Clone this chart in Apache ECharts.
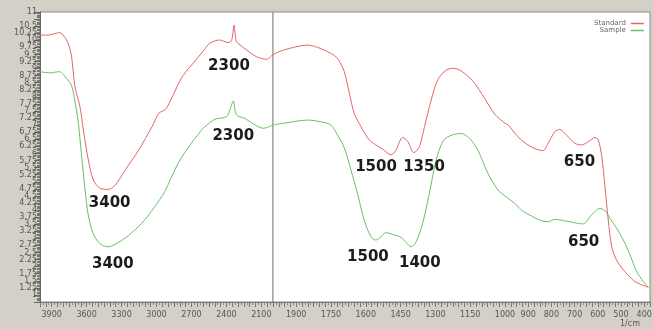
<!DOCTYPE html>
<html><head><meta charset="utf-8">
<script src="https://cdn.jsdelivr.net/npm/echarts@6/dist/echarts.min.js"></script>
<style>html,body{margin:0;padding:0;background:#d4d0c8;}#c{width:653px;height:329px;}</style>
</head><body><div id="c"></div>
<script>
// Standard spectrum
const stdWn = [4000,3950,3905,3860,3830,3795,3758,3729,3700,3657,3628,3585,3542,3484,3412,3354,3268,3153,3038,2980,2922,2865,2779,2663,2591,2545,2459,2386,2355,2335,2318,2300,2228,2142,2055,2000,
  1952,1852,1808,1751,1722,1693,1671,1650,1621,1585,1549,1527,1491,1470,1441,1419,1393,1369,1347,1318,1290,1253,1218,1174,1131,1088,1045,1001,987,944,901,864,836,814,785,764,735,699,670,641,612,598,583,569,555,540,519,483,439,396,382];
const stdVal = [10.19,10.18,10.20,10.25,10.27,10.15,9.89,9.42,8.36,7.65,6.83,5.77,5.06,4.77,4.73,4.88,5.42,6.12,6.95,7.42,7.56,8.0,8.71,9.30,9.66,9.89,10.01,9.92,10.0,10.54,10.0,9.89,9.66,9.42,9.33,9.50,
  9.66,9.83,9.75,9.54,9.36,8.9,8.13,7.42,6.95,6.48,6.26,6.15,5.95,6.12,6.57,6.42,6.03,6.24,6.95,7.89,8.60,8.95,9.01,8.83,8.48,7.95,7.40,7.07,7.01,6.59,6.30,6.15,6.10,6.36,6.77,6.85,6.65,6.36,6.30,6.42,6.56,6.48,5.89,4.83,3.65,2.70,2.23,1.82,1.47,1.31,1.27];
// Sample spectrum
const smpWn = [4000,3950,3903,3860,3831,3800,3774,3731,3702,3674,3645,3616,3588,3545,3488,3416,3330,3216,3101,3015,2930,2815,2701,2601,2584,2498,2398,2370,2341,2313,2241,2155,2083,2000,
  1952,1852,1794,1751,1722,1693,1664,1636,1607,1578,1556,1534,1513,1477,1448,1426,1405,1383,1355,1326,1297,1268,1239,1189,1153,1117,1074,1030,1001,958,929,886,843,814,785,742,699,663,627,591,569,548,519,490,461,432,403,382];
const smpVal = [8.89,8.86,8.85,8.88,8.89,8.80,8.66,8.42,7.89,7.18,6.01,4.83,3.88,3.18,2.82,2.70,2.85,3.18,3.65,4.12,4.65,5.65,6.36,6.89,6.95,7.21,7.30,7.54,7.85,7.36,7.24,7.01,6.89,7.01,
  7.07,7.18,7.12,7.01,6.65,6.2,5.42,4.59,3.65,3.06,2.94,3.06,3.20,3.12,3.04,2.85,2.70,2.88,3.53,4.59,5.77,6.42,6.62,6.71,6.53,6.12,5.30,4.71,4.50,4.24,4.00,3.79,3.62,3.59,3.67,3.62,3.55,3.51,3.83,4.06,3.98,3.71,3.36,2.94,2.41,1.82,1.47,1.27];
// Peak annotations
const stdPeakText = ['3400','2300','1500','1350','650'];
const stdPeakX = [3402,2378,1556,1349,679];
const stdPeakY = [4.25,9.07,5.51,5.51,5.69];
const smpPeakText = ['3400','2300','1500','1400','650'];
const smpPeakX = [3375,2341,1591,1367,661];
const smpPeakY = [2.09,6.62,2.33,2.12,2.87];
// Tick labels
const leftTicks = [3900,3600,3300,3000,2700,2400,2100];
const rightTicks = [1900,1750,1600,1450,1300,1150,1000,900,800,700,600,500,400];

const RED = '#e06666', GREEN = '#66c266';
function pairs(wn, v, test){ const o=[]; for(let i=0;i<wn.length;i++) if(test(wn[i])) o.push([wn[i], v[i]]); return o; }
function marks(txt, xs, ys, test){
  const o=[]; for(let i=0;i<txt.length;i++) if(test(xs[i])) o.push({coord:[xs[i],ys[i]], label:{formatter:txt[i]}});
  return o;
}
const isL = w => w >= 2000, isR = w => w <= 2000;
const mpBase = {symbol:'circle', symbolSize:1, itemStyle:{color:'rgba(0,0,0,0)'},
  label:{show:true, position:'inside', fontFamily:'DejaVu Sans', fontWeight:'bold', fontSize:15, color:'#1c1c1c'}};
function series(name, color, grid, data, mp){
  return {name, type:'line', xAxisIndex:grid, yAxisIndex:grid, data, showSymbol:false, symbol:'none',
    smooth:0.3, lineStyle:{color, width:1}, itemStyle:{color}, animation:false,
    markPoint:Object.assign({}, mpBase, {data:mp})};
}
const yCommon = {type:'value', min:0.75, max:11, interval:0.25};
const chart = echarts.init(document.getElementById('c'));
chart.setOption({
  backgroundColor:'#d4d0c8',
  animation:false,
  grid:[
    {left:40, top:12, width:233, height:290, show:true, backgroundColor:'#fff', borderColor:'#8a8a8a', borderWidth:1, containLabel:false, outerBoundsMode:'none'},
    {left:273, top:12, width:377, height:290, show:true, backgroundColor:'#fff', borderColor:'#8a8a8a', borderWidth:1, containLabel:false, outerBoundsMode:'none'}
  ],
  legend:{orient:'vertical', left:589, top:15, align:'right', itemGap:0, itemWidth:13, itemHeight:1.5, icon:'rect',
    textStyle:{fontSize:7, color:'#666', fontFamily:'DejaVu Sans', width:32, padding:[0,0,0,0]},
    data:[{name:'Standard', itemStyle:{color:RED}}, {name:'Sample', itemStyle:{color:GREEN}}]},
  xAxis:[
    {type:'value', gridIndex:0, min:2000, max:4000, interval:50, inverse:true, position:'bottom',
      axisLine:{show:true, lineStyle:{color:'#777'}}, splitLine:{show:false},
      axisTick:{show:true, length:5, lineStyle:{color:'#777'}},
      minorTick:{show:true, splitNumber:2, length:3, lineStyle:{color:'#888'}},
      axisLabel:{margin:9, fontSize:8, color:'#555', fontFamily:'DejaVu Sans', formatter:v=>leftTicks.includes(Math.round(v))?String(Math.round(v)):''}},
    {type:'value', gridIndex:1, min:375, max:2000, interval:25, inverse:true, position:'bottom',
      axisLine:{show:true, lineStyle:{color:'#777'}}, splitLine:{show:false},
      axisTick:{show:true, length:5, lineStyle:{color:'#777'}},
      minorTick:{show:true, splitNumber:2, length:3, lineStyle:{color:'#888'}},
      axisLabel:{margin:9, fontSize:8, color:'#555', fontFamily:'DejaVu Sans', formatter:v=>rightTicks.includes(Math.round(v))?String(Math.round(v)):''}}
  ],
  yAxis:[
    Object.assign({}, yCommon, {gridIndex:0, position:'left',
      axisLine:{show:true, lineStyle:{color:'#666'}}, splitLine:{show:false},
      axisTick:{show:true, length:6, lineStyle:{color:'#666'}},
      minorTick:{show:true, splitNumber:5, length:3, lineStyle:{color:'#777'}},
      axisLabel:{margin:3, fontSize:8, color:'#555', fontFamily:'DejaVu Sans', showMaxLabel:true, formatter:v=> v<0.9 ? '' : String(+v.toFixed(2))}}),
    Object.assign({}, yCommon, {gridIndex:1, show:false, splitLine:{show:false}})
  ],
  graphic:[{type:'text', right:13, top:320, style:{text:'1/cm', fontSize:8, fill:'#555', fontFamily:'DejaVu Sans'}}],
  series:[
    series('Standard', RED, 0, pairs(stdWn, stdVal, isL), marks(stdPeakText, stdPeakX, stdPeakY, w=>w>2000)),
    series('Standard', RED, 1, pairs(stdWn, stdVal, isR), marks(stdPeakText, stdPeakX, stdPeakY, w=>w<=2000)),
    series('Sample', GREEN, 0, pairs(smpWn, smpVal, isL), marks(smpPeakText, smpPeakX, smpPeakY, w=>w>2000)),
    series('Sample', GREEN, 1, pairs(smpWn, smpVal, isR), marks(smpPeakText, smpPeakX, smpPeakY, w=>w<=2000))
  ]
});
</script></body></html>
